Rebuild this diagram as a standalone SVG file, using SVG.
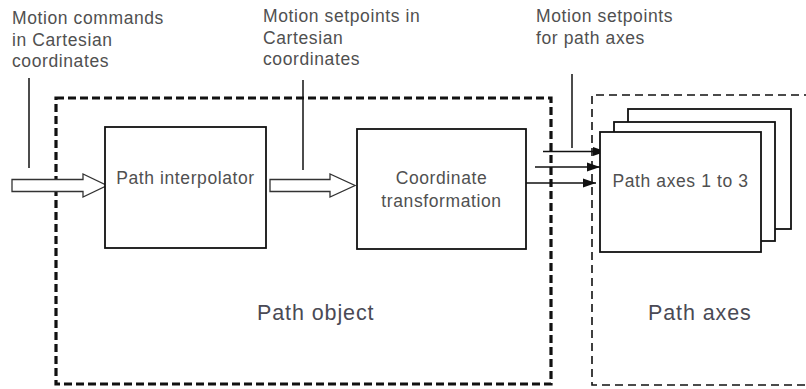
<svg xmlns="http://www.w3.org/2000/svg" width="806" height="389" viewBox="0 0 806 389">
  <style>
    .lbl { font-family: "Liberation Sans", Arial, sans-serif; font-size: 17.5px; letter-spacing: 0.6px; fill: #505050; }
    .big { font-family: "Liberation Sans", Arial, sans-serif; font-size: 21.5px; letter-spacing: 0.9px; fill: #4a4a55; }
    .box { fill: #ffffff; stroke: #111111; stroke-width: 1.8; }
    .lead { stroke: #111111; stroke-width: 1.5; fill: none; }
    .hollow { fill: #ffffff; stroke: #333333; stroke-width: 1.3; stroke-linejoin: miter; }
    .sig { stroke: #111111; stroke-width: 1.6; fill: none; }
  </style>
  <defs>
    <marker id="head" markerUnits="userSpaceOnUse" markerWidth="14" markerHeight="10" refX="13" refY="5" orient="auto">
      <path d="M0,0.5 L13,5 L0,9.5 z" fill="#111111"/>
    </marker>
  </defs>
  <rect width="806" height="389" fill="#ffffff"/>

  <!-- enclosing groups -->
  <g id="path-object-frame">
    <rect x="56" y="98" width="495" height="286" fill="none" stroke="#111111" stroke-width="3.2" stroke-dasharray="8 4"/>
    <text class="big" x="257" y="320">Path object</text>
  </g>
  <g id="path-axes-frame">
    <path d="M812,95 L592,95 L592,385 L812,385" fill="none" stroke="#111111" stroke-width="1.6" stroke-dasharray="8 5"/>
    <text class="big" x="648" y="320">Path axes</text>
  </g>

  <!-- input labels -->
  <g id="label-commands">
    <text class="lbl" x="12" y="24">Motion commands</text>
    <text class="lbl" x="12" y="45.5">in Cartesian</text>
    <text class="lbl" x="12" y="67">coordinates</text>
  </g>
  <g id="label-setpoints-cartesian">
    <text class="lbl" x="263" y="22">Motion setpoints in</text>
    <text class="lbl" x="263" y="44">Cartesian</text>
    <text class="lbl" x="263" y="65">coordinates</text>
  </g>
  <g id="label-setpoints-axes">
    <text class="lbl" x="536" y="22">Motion setpoints</text>
    <text class="lbl" x="536" y="43.5">for path axes</text>
  </g>

  <!-- connectors -->
  <g id="connectors">
    <line class="lead" x1="29" y1="78" x2="29" y2="168"/>
    <line class="lead" x1="303" y1="80" x2="303" y2="170"/>
    <line class="lead" x1="572" y1="74" x2="572" y2="148"/>
    <polygon class="hollow" points="12,179.5 83,179.5 83,174 107,185.5 83,197 83,191.5 12,191.5"/>
    <polygon class="hollow" points="270,179.5 330,179.5 330,174 355,185.5 330,197 330,191.5 270,191.5"/>
    <line class="sig" x1="543" y1="151.5" x2="606" y2="151.5" marker-end="url(#head)"/>
    <line class="sig" x1="535" y1="167" x2="600" y2="167" marker-end="url(#head)"/>
    <line class="sig" x1="526" y1="183" x2="596" y2="183" marker-end="url(#head)"/>
  </g>

  <!-- function blocks -->
  <g id="path-interpolator">
    <rect class="box" x="105" y="127" width="161" height="121" fill="none"/>
    <text class="lbl" x="185.5" y="184" text-anchor="middle">Path interpolator</text>
  </g>
  <g id="coordinate-transformation">
    <rect class="box" x="357" y="129" width="169" height="120" fill="none"/>
    <text class="lbl" x="441.5" y="184" text-anchor="middle">Coordinate</text>
    <text class="lbl" x="441.5" y="207" text-anchor="middle">transformation</text>
  </g>
  <g id="path-axes-stack">
    <rect class="box" x="628" y="109" width="163" height="120"/>
    <rect class="box" x="614" y="122" width="161" height="119"/>
    <rect class="box" x="600" y="132" width="161" height="120"/>
    <text class="lbl" x="680.5" y="187" text-anchor="middle">Path axes 1 to 3</text>
  </g>
</svg>
